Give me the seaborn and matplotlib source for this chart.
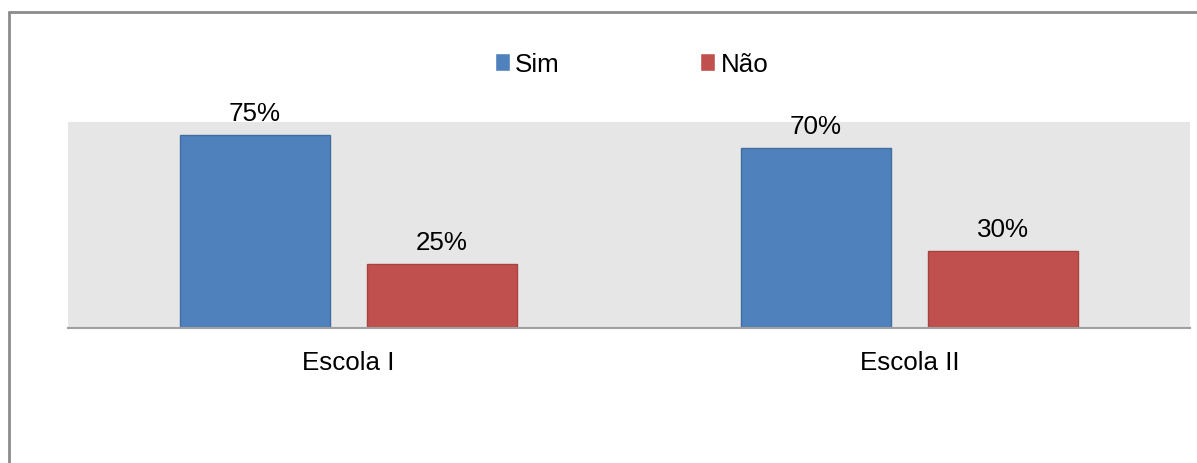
import pandas as pd
import matplotlib.pyplot as plt
import seaborn as sns
from matplotlib.lines import Line2D

# Dados
escolas = ['Escola I', 'Escola II']
sim = [0.75, 0.70]
nao = [0.25, 0.30]
respostas = ['Sim', 'Não']
cores = ['#4F81BD', '#C0504D']
bordas = ['#3F6D9F', '#A8423F']

df = pd.DataFrame({
    'escola': escolas * 2,
    'resposta': ['Sim'] * len(escolas) + ['Não'] * len(escolas),
    'valor': sim + nao,
})

sns.set_style('white')
plt.rcParams['font.family'] = ['Liberation Sans', 'DejaVu Sans']
plt.rcParams['text.color'] = 'black'
plt.rcParams['xtick.color'] = 'black'
fs = 18.7

fig = plt.figure(figsize=(11.97, 4.64), dpi=100)
ax = fig.add_axes([68 / 1197, 1 - 329 / 464, 1122 / 1197, 206 / 464])
ax.set_facecolor('#E6E6E6')

sns.barplot(data=df, x='escola', y='valor', hue='resposta', hue_order=respostas,
            palette=cores, width=0.667, gap=0.2, saturation=1, ax=ax)

for cont, borda in zip(ax.containers, bordas):
    for barra in cont:
        barra.set_edgecolor(borda)
        barra.set_linewidth(1)
    ax.bar_label(cont, labels=[f'{v * 100:.0f}%' for v in cont.datavalues],
                 padding=7, fontsize=fs, color='black')

ax.set_xlim(-0.5, 1.5)
ax.set_ylim(0, 0.8)
ax.set_yticks([])
ax.set_xlabel('')
ax.set_ylabel('')
ax.tick_params(axis='x', length=0, pad=16, labelsize=fs, labelcolor='black')
for s in ['top', 'left', 'right']:
    ax.spines[s].set_visible(False)
ax.spines['bottom'].set_color('#A0A0A0')
ax.spines['bottom'].set_linewidth(1.5)

# Legenda
h, l = ax.get_legend_handles_labels()
leg = ax.legend(h, l, loc='center left', bbox_to_anchor=(495 / 1197, 1 - 65 / 464),
                bbox_transform=fig.transFigure, ncol=2, frameon=False, fontsize=fs,
                handlelength=0.58, handleheight=0.68, handletextpad=0.2,
                columnspacing=5.4, borderpad=0, borderaxespad=0)
for t in leg.get_texts():
    t.set_color('black')

# Moldura (esquerda e topo)
x0, y0 = 9 / 1197, 1 - 13 / 464
fig.lines.append(Line2D([x0, x0], [0, y0], transform=fig.transFigure,
                        color='#8C8C8C', linewidth=2))
fig.lines.append(Line2D([x0, 1], [y0, y0], transform=fig.transFigure,
                        color='#8C8C8C', linewidth=2))

plt.savefig('out.png', dpi=100)
plt.close()
